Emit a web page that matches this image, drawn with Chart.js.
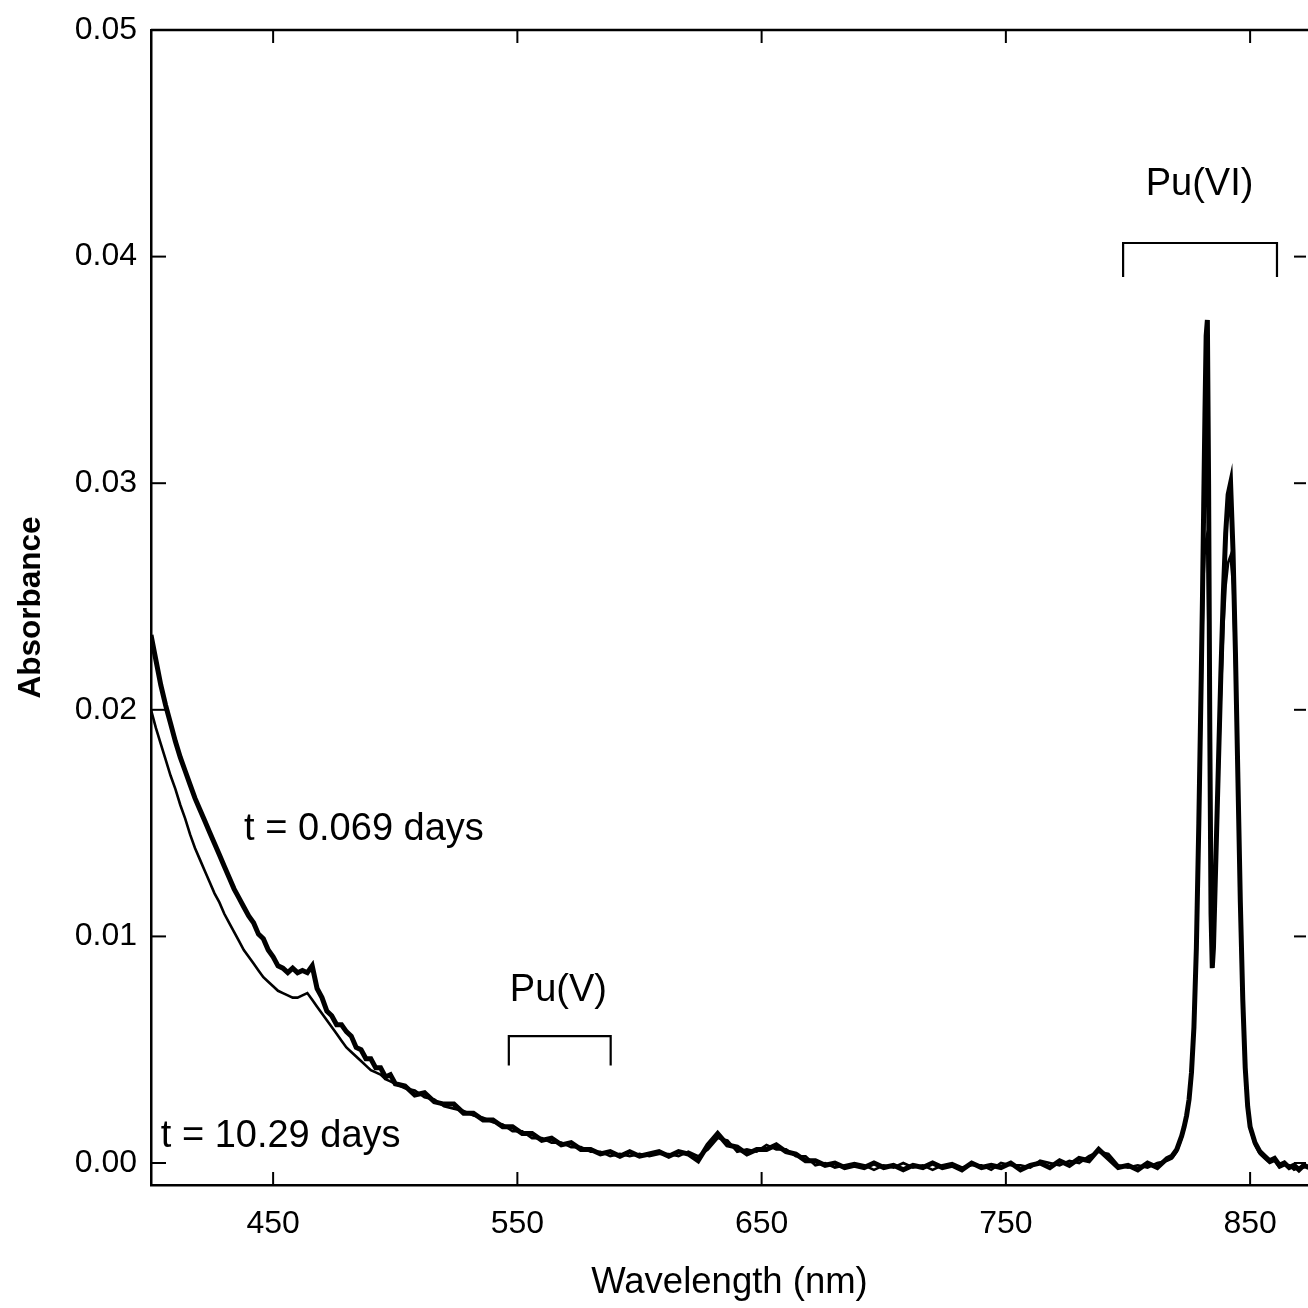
<!DOCTYPE html>
<html>
<head>
<meta charset="utf-8">
<script src="https://cdn.jsdelivr.net/npm/chart.js@4/dist/chart.umd.min.js"></script>
<style>
html,body{margin:0;padding:0;background:#fff;overflow:hidden}
#wrap{width:1308px;height:1308px;position:relative;background:#fff}
</style>
</head>
<body>
<div id="wrap"><canvas id="c" width="1308" height="1308"></canvas></div>
<script>
// ---------- data ----------
const wavelengthSeg1 = [400,402,404,406,408,410,412,414,416,418,420,422,424,426,428,430,432,434,436,438,440,442,444,446,448,450,452,454,456,458,460,462,464,466,468,470,472,474,476,478,480,482,484,486,488,490,492,494,496,498,500];
const wavelengthSeg2 = [504,508,512,516,520,524,528,532,536,540,544,548,552,556,560,564,568,572,576,580,584,588,592,596,600,604,608,612,616,620,624,628,632,636,640,644,648,652,656,660,664,668,672,676,680,684,688,692,696,700,704,708,712,716,720,724,728,732,736,740,744,748,752,756,760,764,768,772,776,780,784,788,792,796,800,804,808,812,816];
const wavelengthSeg3 = [818,820,821,822,823,824,825,826,827,828,829,830,830.5,831,831.5,832,832.5,833,833.5,834,834.5,835,836,837,838,839,840,841,842,843,844,845,846,847,848,849,850,852,854,856,858,860,862,864,866,868,870,872,874];

// t = 0.069 days (heavier trace)
const absEarlySeg1 = [0.0233,0.0222,0.0211,0.0202,0.0194,0.0186,0.0179,0.0173,0.0167,0.0161,0.0156,0.0151,0.0146,0.0141,0.0136,0.0131,0.0126,0.0121,0.0117,0.0113,0.0109,0.0106,0.0101,0.0099,0.0094,0.0091,0.0087,0.0086,0.0084,0.0086,0.0084,0.0085,0.0084,0.0087,0.0077,0.0073,0.0067,0.0065,0.0061,0.0061,0.0058,0.0056,0.0051,0.0050,0.0046,0.0046,0.0042,0.0042,0.0038,0.0039,0.0035];
const absEarlySeg2 = [0.0034,0.0030,0.0031,0.0027,0.0026,0.0026,0.0022,0.0022,0.0019,0.0019,0.0016,0.0016,0.0013,0.0013,0.0010,0.0011,0.0008,0.0009,0.0006,0.0006,0.0004,0.0005,0.0003,0.0005,0.0003,0.0004,0.0005,0.0003,0.0005,0.0004,0.0001,0.0008,0.0013,0.0008,0.0007,0.0004,0.0006,0.0006,0.0008,0.0005,0.0004,0.0001,0.0001,-0.0001,0.0000,-0.0002,-0.0001,-0.0002,0.0000,-0.0002,-0.0001,-0.0003,-0.0001,-0.0002,0.0000,-0.0002,-0.0001,-0.0003,0.0000,-0.0002,-0.0001,-0.0002,0.0000,-0.0003,-0.0001,0.0000,-0.0002,0.0001,-0.0001,0.0002,0.0001,0.0006,0.0002,-0.0002,-0.0001,-0.0003,0.0000,-0.0002,0.0002];
const absEarlySeg3 = [0.0003,0.0006,0.0009,0.0012,0.0016,0.0021,0.0028,0.0040,0.0060,0.0095,0.0150,0.0215,0.0250,0.0290,0.0330,0.0365,0.0372,0.0300,0.0190,0.0110,0.0086,0.0095,0.0135,0.0175,0.0215,0.0250,0.0278,0.0295,0.0300,0.0270,0.0225,0.0170,0.0115,0.0072,0.0042,0.0025,0.0016,0.0009,0.0005,0.0003,0.0001,0.0002,-0.0001,0.0000,-0.0002,-0.0001,-0.0003,-0.0001,-0.0002];

// t = 10.29 days (thinner trace)
const absLateSeg1 = [0.0200,0.0192,0.0185,0.0178,0.0171,0.0165,0.0158,0.0152,0.0145,0.0139,0.0134,0.0129,0.0124,0.0119,0.0115,0.0110,0.0106,0.0102,0.0098,0.0094,0.0091,0.0088,0.0085,0.0082,0.0080,0.0078,0.0076,0.0075,0.0074,0.0073,0.0073,0.0074,0.0075,0.0072,0.0069,0.0066,0.0063,0.0060,0.0057,0.0054,0.0051,0.0049,0.0047,0.0045,0.0043,0.0041,0.0040,0.0039,0.0037,0.0036,0.0035];
const absLateSeg2 = [0.0033,0.0032,0.0029,0.0028,0.0025,0.0024,0.0023,0.0021,0.0020,0.0018,0.0017,0.0014,0.0014,0.0011,0.0011,0.0009,0.0009,0.0007,0.0007,0.0005,0.0005,0.0003,0.0004,0.0003,0.0004,0.0003,0.0004,0.0004,0.0003,0.0005,0.0003,0.0006,0.0011,0.0010,0.0005,0.0006,0.0005,0.0008,0.0006,0.0006,0.0003,0.0003,-0.0001,0.0000,-0.0002,-0.0001,0.0000,-0.0001,-0.0003,-0.0001,-0.0002,0.0000,-0.0002,-0.0001,-0.0003,-0.0001,0.0000,-0.0002,-0.0001,-0.0001,-0.0003,0.0000,-0.0001,-0.0001,-0.0002,0.0001,0.0000,-0.0001,0.0001,0.0000,0.0003,0.0005,0.0004,-0.0001,-0.0002,-0.0001,-0.0002,0.0000,0.0001];
const absLateSeg3 = [0.0002,0.0005,0.0008,0.0011,0.0015,0.0020,0.0027,0.0038,0.0057,0.0090,0.0140,0.0200,0.0232,0.0260,0.0272,0.0275,0.0268,0.0230,0.0170,0.0110,0.0090,0.0098,0.0130,0.0168,0.0205,0.0235,0.0255,0.0265,0.0268,0.0255,0.0215,0.0165,0.0112,0.0070,0.0041,0.0024,0.0015,0.0008,0.0004,0.0002,0.0000,0.0001,-0.0002,-0.0001,-0.0001,-0.0003,-0.0002,-0.0002,-0.0001];

const xTickValues = [450,550,650,750,850];
const yTickValues = [0.00,0.01,0.02,0.03,0.04,0.05];
const seriesLabels = ['t = 0.069 days','t = 10.29 days'];

// ---------- build ----------
const wavelengths = wavelengthSeg1.concat(wavelengthSeg2, wavelengthSeg3);
const absEarly = absEarlySeg1.concat(absEarlySeg2, absEarlySeg3);
const absLate = absLateSeg1.concat(absLateSeg2, absLateSeg3);
if (wavelengths.length !== absEarly.length || wavelengths.length !== absLate.length) {
  console.error('length mismatch', wavelengths.length, absEarly.length, absLate.length);
}
const toPoints = arr => wavelengths.map((w, i) => ({x: w, y: arr[i]}));

const FONT = "'Liberation Sans', Arial, Helvetica, sans-serif";

const decorPlugin = {
  id: 'decor',
  afterDraw(chart) {
    const ctx = chart.ctx;
    const xs = chart.scales.x, ys = chart.scales.y;
    const ca = chart.chartArea;
    const X = v => xs.getPixelForValue(v);
    const Y = v => ys.getPixelForValue(v);
    ctx.save();
    ctx.strokeStyle = '#000';
    ctx.fillStyle = '#000';
    ctx.lineCap = 'butt';
    // top frame line
    ctx.lineWidth = 2.5;
    ctx.beginPath(); ctx.moveTo(ca.left, ca.top); ctx.lineTo(ca.right, ca.top); ctx.stroke();
    // inward ticks
    ctx.lineWidth = 2;
    xTickValues.forEach(v => {
      const px = X(v);
      ctx.beginPath(); ctx.moveTo(px, ca.bottom); ctx.lineTo(px, ca.bottom - 13); ctx.stroke();
      ctx.beginPath(); ctx.moveTo(px, ca.top); ctx.lineTo(px, ca.top + 13); ctx.stroke();
    });
    yTickValues.forEach(v => {
      const py = Y(v);
      ctx.beginPath(); ctx.moveTo(ca.left, py); ctx.lineTo(ca.left + 15, py); ctx.stroke();
      ctx.beginPath(); ctx.moveTo(ca.right - 2, py); ctx.lineTo(ca.right - 14, py); ctx.stroke();
    });
    // brackets
    ctx.lineWidth = 2.2;
    const bracket = (x0, x1, yTop, yBot) => {
      ctx.beginPath();
      ctx.moveTo(X(x0), Y(yBot)); ctx.lineTo(X(x0), Y(yTop));
      ctx.lineTo(X(x1), Y(yTop)); ctx.lineTo(X(x1), Y(yBot));
      ctx.stroke();
    };
    bracket(546.5, 588.2, 0.0056, 0.0043);
    bracket(798, 861, 0.0406, 0.0391);
    // annotation texts
    ctx.font = '38px ' + FONT;
    ctx.textBaseline = 'middle';
    ctx.textAlign = 'left';
    ctx.fillText(seriesLabels[0], X(438.1), Y(0.0147));
    ctx.fillText(seriesLabels[1], X(404.0), Y(0.00115));
    ctx.textAlign = 'center';
    ctx.fillText('Pu(V)', X(566.8), Y(0.0076));
    ctx.fillText('Pu(VI)', X(829.3), Y(0.0432));
    ctx.restore();
  }
};

new Chart(document.getElementById('c'), {
  type: 'line',
  data: {
    datasets: [
      {label: seriesLabels[0], data: toPoints(absEarly), borderColor: '#000', borderWidth: 5, pointRadius: 0, tension: 0, fill: false},
      {label: seriesLabels[1], data: toPoints(absLate), borderColor: '#000', borderWidth: 2.6, pointRadius: 0, tension: 0, fill: false}
    ]
  },
  options: {
    responsive: false,
    animation: false,
    devicePixelRatio: 1,
    layout: {padding: {top: 30, right: 0, left: 0, bottom: 0}},
    plugins: {legend: {display: false}, tooltip: {enabled: false}},
    scales: {
      x: {
        type: 'linear', position: 'bottom', min: 400, max: 873.7,
        afterFit(s) { s.height = 123; s.paddingLeft = 0; s.paddingRight = 0; },
        afterBuildTicks(s) { s.ticks = xTickValues.map(v => ({value: v})); },
        grid: {display: false, drawTicks: false},
        border: {display: true, color: '#000', width: 2.5},
        ticks: {color: '#000', font: {family: FONT, size: 32}, padding: 20, maxRotation: 0, autoSkip: false, callback: v => String(v)},
        title: {display: true, text: 'Wavelength (nm)', color: '#000', font: {family: FONT, size: 36.5}, padding: {top: 0, bottom: 3}}
      },
      y: {
        type: 'linear', position: 'left', min: -0.00097, max: 0.05,
        afterFit(s) { s.width = 151; s.paddingTop = 0; s.paddingBottom = 0; },
        afterBuildTicks(s) { s.ticks = yTickValues.map(v => ({value: v})); },
        grid: {display: false, drawTicks: false},
        border: {display: true, color: '#000', width: 2.5},
        ticks: {color: '#000', font: {family: FONT, size: 32}, padding: 14, autoSkip: false, callback: v => Number(v).toFixed(2)},
        title: {display: true, text: 'Absorbance', color: '#000', font: {family: FONT, size: 31.5, weight: 'bold'}, padding: {top: 12, bottom: 0}}
      }
    }
  },
  plugins: [decorPlugin]
});
</script>
</body>
</html>
